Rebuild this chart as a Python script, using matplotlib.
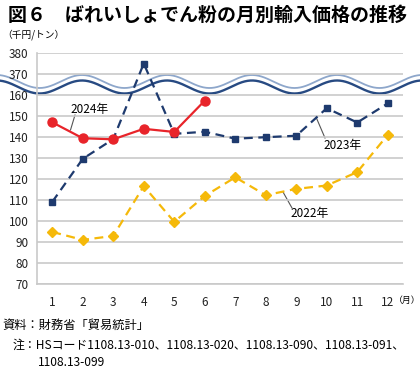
import numpy as np
import matplotlib
matplotlib.use("Agg")
import matplotlib.pyplot as plt

plt.rcParams['font.family'] = ['Noto Sans CJK JP', 'DejaVu Sans']

months = list(range(1, 13))
month_labels = [str(m) for m in months]

# 千円/トン
price_2022 = [94.8, 91.0, 92.9, 116.6, 99.6, 111.9, 120.8, 112.3, 115.3, 116.9, 123.3, 141.0]
price_2023 = [109.1, 129.6, 139.0, 375.0, 141.5, 142.5, 139.2, 139.9, 140.6, 153.7, 146.9, 156.0]
price_2024 = [147.0, 139.4, 138.9, 143.9, 142.4, 157.3]

yticks = [70, 80, 90, 100, 110, 120, 130, 140, 150, 160, 370, 380]

RED = "#e8242a"
NAVY = "#1e3a6e"
GOLD = "#f5b90a"
GRID = "#c9c9c9"


# broken axis: 70-160 normal, 160-370 squeezed into one step, 370-380 normal
def fwd(v):
    v = np.asarray(v, dtype=float)
    return np.where(v <= 160, (v - 70) / 10,
                    np.where(v >= 370, 10 + (v - 370) / 10, 9 + (v - 160) / 210))


def inv(t):
    t = np.asarray(t, dtype=float)
    return np.where(t <= 9, 70 + t * 10,
                    np.where(t >= 10, 370 + (t - 10) * 10, 160 + (t - 9) * 210))


fig = plt.figure(figsize=(4.2, 3.69), dpi=100)

# overlay in pixel coords for the break wave
deco = fig.add_axes([0, 0, 1, 1], zorder=0)
deco.set_xlim(0, 420); deco.set_ylim(369, 0); deco.axis("off")

ax = fig.add_axes([37 / 420, 1 - 284 / 369, 366 / 420, 231 / 369], zorder=1)
ax.patch.set_alpha(0)
ax.set_yscale("function", functions=(fwd, inv))
ax.set_ylim(70, 380)
ax.set_xlim(0.5, 12.5)
ax.set_yticks(yticks)
ax.set_yticklabels([str(t) for t in yticks])
ax.set_xticks(months)
ax.set_xticklabels(month_labels)
ax.tick_params(length=0, labelsize=8.5, colors="#222222")
ax.tick_params(axis="x", pad=9)
ax.tick_params(axis="y", pad=6)
for s in ("top", "right"):
    ax.spines[s].set_visible(False)
for s in ("left", "bottom"):
    ax.spines[s].set_color(GRID)
    ax.spines[s].set_linewidth(1.2)
ax.grid(axis="y", color=GRID, lw=1.2)
ax.set_axisbelow(True)

ax.plot(months, price_2022, color=GOLD, lw=1.6, dashes=(4, 2.5),
        marker="D", ms=5, mec=GOLD, mfc=GOLD, zorder=3)
ax.plot(months, price_2023, color=NAVY, lw=1.6, dashes=(4, 2.5),
        marker="s", ms=5, mec=NAVY, mfc=NAVY, zorder=4)
ax.plot(months[:len(price_2024)], price_2024, color=RED, lw=1.6,
        marker="o", ms=6.5, mec=RED, mfc=RED, zorder=5)

# wave across the break
xs = np.linspace(0, 420, 600)
wv = -6.5 * np.cos(2 * np.pi * (xs - 82) / 85)
deco.fill_between(xs, 81.5 + wv - 1, 87 + wv + 1, color="white", zorder=1)
deco.plot(xs, 81.5 + wv, color="#8ea7cb", lw=1.3, zorder=2)
deco.plot(xs, 87 + wv, color="#274a82", lw=1.7, zorder=2)

# series labels with leader lines
lead = dict(color="#555555", lw=0.8)
deco.plot([70.5, 75], [130, 115], **lead)
deco.text(70, 109, "2024年", fontsize=8.5, va="center", ha="left")
deco.plot([325, 316], [138, 117], **lead)
deco.text(323, 146, "2023年", fontsize=8.5, va="center", ha="left")
deco.plot([292, 283], [208, 192], **lead)
deco.text(290, 214, "2022年", fontsize=8.5, va="center", ha="left")

fig.text(8 / 420, 1 - 15 / 369, "図６　ばれいしょでん粉の月別輸入価格の推移",
         fontsize=13.7, fontweight="bold", va="center", ha="left")
fig.text(2 / 420, 1 - 35 / 369, "（千円/トン）", fontsize=7, va="center", ha="left")
fig.text(420 / 420, 1 - 300 / 369, "（月）", fontsize=6.4, va="center", ha="right")
fig.text(2 / 420, 1 - 325 / 369, "資料：財務省「貿易統計」", fontsize=8.8, va="center", ha="left")
fig.text(13 / 420, 1 - 345 / 369,
         "注：HSコード1108.13-010、1108.13-020、1108.13-090、1108.13-091、",
         fontsize=8.6, va="center", ha="left")
fig.text(38 / 420, 1 - 363 / 369, "1108.13-099", fontsize=8.6, va="center", ha="left")

fig.savefig("out.png", dpi=100)
